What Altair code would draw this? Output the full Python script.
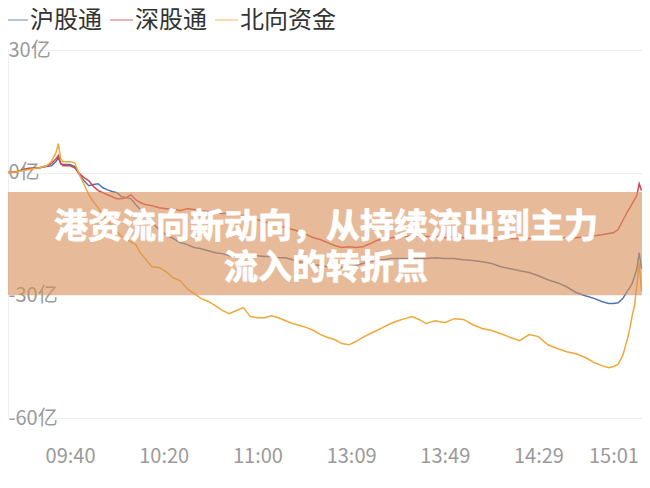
import altair as alt
import pandas as pd

series_names = ["沪股通", "深股通", "北向资金"]
series_colors = ["#4F73B0", "#D9434F", "#EFA83A"]

minutes = [0, 5, 10, 15, 18, 20, 22, 23, 24, 25,
           28, 30, 32, 34, 36, 38, 40, 42, 44, 46,
           48, 50, 52, 54, 56, 58, 60, 63, 66, 69,
           72, 75, 78, 81, 84, 87, 90, 93, 96, 99,
           102, 105, 108, 111, 114, 117, 120, 123, 126, 129,
           132, 135, 138, 141, 144, 147, 150, 153, 156, 159,
           162, 165, 168, 171, 174, 177, 180, 184, 188, 192,
           196, 200, 204, 208, 212, 216, 220, 224, 228, 232,
           236, 240, 244, 248, 252, 255, 258, 260, 262, 264,
           266, 267, 268, 269, 270, 271, 272]

hgt = [0, 0.2, 1.0, 1.2, 1.5, 1.7, 2.7, 3.7, 2.2, 2.0,
       2.0, 1.5, -0.5, -2.0, -3.2, -2.9, -2.7, -3.7, -4.2, -4.6,
       -4.9, -5.9, -6.1, -6.4, -7.8, -9.0, -10.5, -12.2, -13.9, -15.2,
       -16.1, -17.1, -17.6, -18.3, -18.6, -19.1, -19.6, -19.8, -20.3, -20.5,
       -20.8, -20.3, -20.3, -20.5, -20.5, -20.8, -20.8, -21.3, -21.8, -22.0,
       -22.5, -22.7, -23.0, -23.0, -23.2, -23.2, -22.7, -22.2, -21.8, -21.3,
       -21.3, -21.0, -21.0, -21.0, -21.0, -21.0, -21.0, -20.8, -21.0, -21.0,
       -21.3, -21.5, -21.8, -22.2, -23.0, -23.5, -24.0, -24.4, -25.2, -26.2,
       -26.9, -27.9, -29.3, -30.1, -30.8, -31.5, -32.0, -32.0, -31.8, -30.8,
       -28.9, -28.1, -27.1, -25.4, -23.5, -19.6, -23.5]

sgt = [0, 0.2, 1.0, 1.2, 1.7, 2.2, 3.4, 4.2, 2.2, 1.7,
       1.7, 1.2, -0.2, -1.2, -2.0, -3.4, -4.4, -4.9, -5.4, -5.9,
       -6.4, -6.4, -6.1, -5.4, -6.6, -7.3, -7.8, -8.1, -8.6, -8.8,
       -8.8, -9.3, -8.8, -9.0, -9.3, -9.5, -9.8, -10.0, -10.0, -10.3,
       -10.5, -11.0, -11.5, -12.0, -12.5, -13.0, -13.4, -13.9, -14.4, -15.2,
       -15.9, -16.4, -17.1, -17.8, -18.3, -18.1, -18.3, -18.1, -17.4, -16.6,
       -16.1, -15.9, -15.6, -15.6, -15.4, -15.4, -15.6, -15.6, -15.9, -15.6,
       -15.9, -15.9, -16.1, -15.9, -15.9, -16.1, -16.1, -16.1, -16.1, -16.1,
       -15.9, -15.9, -15.9, -15.6, -15.4, -15.2, -14.9, -14.7, -13.9, -11.7,
       -9.5, -8.6, -7.6, -6.6, -5.6, -2.7, -4.4]

north = [0, 0.2, 0.7, 1.2, 1.7, 2.7, 4.9, 7.1, 3.4, 2.7,
         2.7, 2.4, -0.5, -2.9, -5.4, -7.1, -8.6, -10.3, -11.7, -13.2,
         -14.4, -15.6, -16.4, -16.9, -17.6, -19.6, -21.0, -23.0, -23.2, -24.2,
         -25.7, -26.4, -28.4, -29.6, -30.8, -31.5, -32.5, -33.7, -34.5, -33.7,
         -33.0, -35.2, -35.5, -35.5, -35.0, -35.5, -36.2, -36.9, -37.4, -37.9,
         -38.6, -39.6, -40.3, -40.8, -41.8, -42.1, -41.3, -40.3, -39.4, -38.6,
         -37.7, -36.9, -36.2, -35.7, -35.2, -35.9, -36.9, -36.2, -36.7, -35.7,
         -35.9, -37.2, -38.1, -38.6, -39.4, -40.3, -41.1, -39.6, -40.1, -42.1,
         -43.0, -43.8, -44.3, -45.2, -46.5, -47.2, -47.7, -47.4, -46.9, -44.7,
         -40.6, -38.1, -35.0, -32.5, -27.6, -22.0, -28.9]

tick_minutes = [28, 68, 108, 148, 188, 228, 260]
tick_labels = ["09:40", "10:20", "11:00", "13:09", "13:49", "14:29", "15:01"]
y_ticks = [30, 0, -30, -60]
title_line1 = "港资流向新动向，从持续流出到主力"
title_line2 = "流入的转折点"

FONT = "Noto Sans CJK SC"

rows = []
for name, vals in zip(series_names, [hgt, sgt, north]):
    for m, v in zip(minutes, vals):
        rows.append({"minute": m, "value": v, "series": name})
df = pd.DataFrame(rows)

label_expr = "[" + ",".join("'%s'" % t for t in tick_labels) + "][indexof([" + \
    ",".join(str(v) for v in tick_minutes) + "], datum.value)]"

W, H = 634, 368
one = pd.DataFrame({"k": [0]})

lines = alt.Chart(df).mark_line(strokeWidth=1.5, clip=True).encode(
    x=alt.X("minute:Q",
            scale=alt.Scale(domain=[1.5, 272.2], nice=False, zero=False),
            axis=alt.Axis(values=tick_minutes, labelExpr=label_expr, title=None,
                          grid=False, domain=False, ticks=False, labelFontSize=20,
                          labelColor="#9a9a9a", labelPadding=28, labelFont=FONT,
                          labelOverlap=False, labelFlush=False)),
    y=alt.Y("value:Q",
            scale=alt.Scale(domain=[-60, 30], nice=False, zero=False),
            axis=alt.Axis(values=y_ticks, labelExpr="datum.value + '亿'", title=None,
                          orient="left", labelAlign="left", labelBaseline="middle",
                          labelPadding=0, ticks=False, tickSize=0, domain=False,
                          gridColor="#eeeeee", labelFontSize=20,
                          labelColor="#9a9a9a", labelFont=FONT)),
    color=alt.Color("series:N",
                    scale=alt.Scale(domain=series_names, range=series_colors),
                    legend=None),
    order=alt.Order("minute:Q"),
)

# light left frame line
left_line = alt.Chart(one).mark_rule(color="#eeeeee", strokeWidth=1).encode(
    x=alt.value(0.5), y=alt.value(0), y2=alt.value(H))

# custom legend (stroke symbol + label)
legend_layers = []
sym_x = [(0, 20), (102, 125), (207, 230)]
lab_x = [22, 127, 232]
for name, color, (sx1, sx2), lx in zip(series_names, series_colors, sym_x, lab_x):
    legend_layers.append(
        alt.Chart(one).mark_rule(color=color, strokeWidth=1.5, opacity=0.55).encode(
            x=alt.value(sx1), x2=alt.value(sx2), y=alt.value(-30)))
    legend_layers.append(
        alt.Chart(one).mark_text(align="left", baseline="middle", fontSize=24,
                                 color="#333333", font=FONT).encode(
            x=alt.value(lx), y=alt.value(-29), text=alt.value(name)))

banner = alt.Chart(one).mark_rect(
    fill="#D9925A", opacity=0.62
).encode(x=alt.value(0), x2=alt.value(W), y=alt.value(142), y2=alt.value(245))

title1 = alt.Chart(one).mark_text(
    align="center", baseline="middle", fontSize=34, fontWeight="bold",
    color="white", stroke="white", strokeWidth=0.8, font=FONT
).encode(x=alt.value(318), y=alt.value(178), text=alt.value(title_line1))

title2 = alt.Chart(one).mark_text(
    align="center", baseline="middle", fontSize=34, fontWeight="bold",
    color="white", stroke="white", strokeWidth=0.8, font=FONT
).encode(x=alt.value(318), y=alt.value(219), text=alt.value(title_line2))

chart = alt.layer(left_line, lines, banner, title1, title2, *legend_layers).properties(
    width=W, height=H,
    autosize=alt.AutoSizeParams(type="none"),
    padding={"left": 0, "top": 42, "right": 0, "bottom": 56},
    background="white",
).configure(font=FONT, view=alt.ViewConfig(stroke=None, strokeWidth=0))

chart.save("out.html", embed_options={"renderer": "svg", "actions": False})
